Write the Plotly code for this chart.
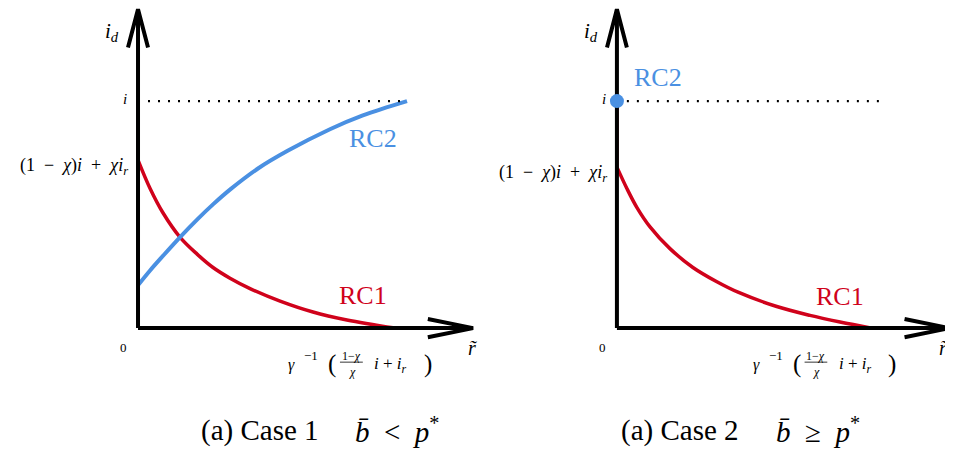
import plotly.graph_objects as go
from plotly.subplots import make_subplots

# ---------- data (origin = 0, level i = 1, RC1 end = 1) ----------
rc1_case1_x = [0, 0, 0.047, 0.097, 0.163, 0.230, 0.292, 0.358, 0.440, 0.553, 0.681, 0.813, 1.0]
rc1_case1_y = [1.0, 0.740, 0.615, 0.508, 0.401, 0.326, 0.267, 0.220, 0.172, 0.119, 0.071, 0.036, 0.0]

rc2_case1_x = [0, 0.047, 0.097, 0.163, 0.230, 0.292, 0.358, 0.467, 0.584, 0.747, 0.875, 1.047]
rc2_case1_y = [0.189, 0.254, 0.318, 0.400, 0.478, 0.545, 0.610, 0.703, 0.782, 0.876, 0.937, 1.0]

rc1_case2_x = [0, 0, 0.039, 0.078, 0.129, 0.208, 0.298, 0.392, 0.475, 0.627, 0.757, 0.875, 1.0]
rc1_case2_y = [1.0, 0.709, 0.615, 0.532, 0.447, 0.350, 0.267, 0.204, 0.158, 0.095, 0.056, 0.027, 0.0]

rc2_case2_x = [0]
rc2_case2_y = [1.0]

level_i = 1.0
dotted_end = [1.047, 1.047]
captions = ["(a) Case 1", "(a) Case 2"]
conditions = ["<i>b\u0304</i>\u00a0\u00a0&lt;\u00a0\u00a0<i>p</i><sup>*</sup>",
              "<i>b\u0304</i>\u00a0\u00a0\u2265\u00a0\u00a0<i>p</i><sup>*</sup>"]

RED = "#d0021b"
BLUE = "#4a90e2"
SERIF = "Liberation Serif, Times New Roman, serif"

fig = make_subplots(rows=1, cols=2, horizontal_spacing=0)

curve = dict(shape="spline", smoothing=1.0)
# ---------- curves ----------
fig.add_trace(go.Scatter(x=rc1_case1_x[:2], y=rc1_case1_y[:2], mode="lines",
                         line=dict(color=RED, width=3.5)), 1, 1)
fig.add_trace(go.Scatter(x=rc1_case1_x[1:], y=rc1_case1_y[1:], mode="lines",
                         line=dict(color=RED, width=3.5, **curve)), 1, 1)
fig.add_trace(go.Scatter(x=rc2_case1_x, y=rc2_case1_y, mode="lines",
                         line=dict(color=BLUE, width=4, **curve)), 1, 1)
fig.add_trace(go.Scatter(x=rc1_case2_x[:2], y=rc1_case2_y[:2], mode="lines",
                         line=dict(color=RED, width=3.5)), 1, 2)
fig.add_trace(go.Scatter(x=rc1_case2_x[1:], y=rc1_case2_y[1:], mode="lines",
                         line=dict(color=RED, width=3.5, **curve)), 1, 2)

for col in (1, 2):
    # dotted level i
    fig.add_trace(go.Scatter(x=[0.039, dotted_end[col - 1]], y=[level_i, level_i], mode="lines",
                             line=dict(color="black", width=2.2, dash="2px,8px")), 1, col)
    # axes with chevron heads
    fig.add_trace(go.Scatter(x=[0, 0, None, 0, 1.304], y=[0, 1.405, None, 0, 0], mode="lines",
                             line=dict(color="black", width=4)), 1, col)
    fig.add_trace(go.Scatter(x=[-0.039, 0, 0.039, None, 1.128, 1.304, 1.128],
                             y=[1.236, 1.405, 1.236, None, 0.040, 0, -0.040], mode="lines",
                             line=dict(color="black", width=4)), 1, col)

fig.add_trace(go.Scatter(x=rc2_case2_x, y=rc2_case2_y, mode="markers",
                         marker=dict(color=BLUE, size=14)), 1, 2)

fig.update_traces(showlegend=False, hoverinfo="skip")


def note(col, x, y, text, size=14, color="black", xanchor="center"):
    xr = "x" if col == 1 else "x2"
    yr = "y" if col == 1 else "y2"
    fig.add_annotation(x=x, y=y, xref=xr, yref=yr, text=text, showarrow=False,
                       xanchor=xanchor, yanchor="middle",
                       font=dict(family=SERIF, size=size, color=color))


bend = [rc1_case1_y[1], rc1_case2_y[1]]
frac_x0 = [0.599, 0.549]
rlabel_x = [1.30, 1.28]
for col in (1, 2):
    c = col - 1
    note(col, -0.10, 1.304, "<i>i<sub>d</sub></i>", size=21)
    note(col, -0.035, level_i + 0.01, "<i>i</i>", size=15, xanchor="right")
    note(col, -0.03, bend[c] - 0.03,
         "(1\u00a0\u00a0\u2212\u00a0\u00a0<i>\u03c7</i>)<i>i</i>\u00a0\u00a0+\u00a0\u00a0<i>\u03c7i<sub>r</sub></i>",
         size=18, xanchor="right")
    note(col, -0.055, -0.084, "0", size=13)
    note(col, rlabel_x[c], -0.088, "<i>r\u0303</i>", size=20)
    # gamma^-1 ( (1-chi)/chi i + i_r )
    fx = frac_x0[c]
    note(col, fx, -0.163, "<i>\u03b3</i>", size=16)
    note(col, fx + 0.074, -0.119, "\u22121", size=13)
    note(col, fx + 0.156, -0.160, "(", size=25)
    note(col, fx + 0.230, -0.125, "1\u2212<i>\u03c7</i>", size=12)
    note(col, fx + 0.234, -0.192, "<i>\u03c7</i>", size=12)
    note(col, fx + 0.385, -0.163, "<i>i</i>\u00a0+\u00a0<i>i<sub>r</sub></i>", size=17)
    note(col, fx + 0.529, -0.160, ")", size=25)
    fig.add_trace(go.Scatter(x=[fx + 0.187, fx + 0.276], y=[-0.150, -0.150], mode="lines",
                             line=dict(color="black", width=0.8), showlegend=False,
                             hoverinfo="skip"), 1, col)

note(1, 0.914, 0.837, "RC2", size=26, color=BLUE)
note(1, 0.875, 0.145, "RC1", size=26, color=RED)
note(2, 0.160, 1.106, "RC2", size=26, color=BLUE)
note(2, 0.875, 0.137, "RC1", size=26, color=RED)

# captions
note(1, 0.473, -0.449, captions[0], size=29)
note(1, 1.008, -0.449, conditions[0], size=29)
note(2, 0.247, -0.449, captions[1], size=29)
note(2, 0.788, -0.449, conditions[1], size=29)

fig.update_xaxes(visible=False)
fig.update_yaxes(visible=False, range=[-0.559, 1.410])
fig.update_xaxes(range=[-0.506, 1.333], row=1, col=1)
fig.update_xaxes(range=[-0.535, 1.318], row=1, col=2)
# page body keeps an 8px margin, so the figure is 8px smaller than the window
fig.update_layout(width=945, height=447, margin=dict(l=0, r=0, t=0, b=0),
                  plot_bgcolor="white", paper_bgcolor="white")

fig.write_html("out.html")
